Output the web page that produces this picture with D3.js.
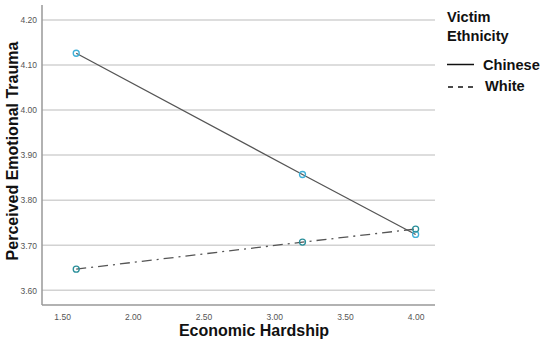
<!DOCTYPE html>
<html><head><meta charset="utf-8">
<script src="https://cdn.jsdelivr.net/npm/d3@7"></script>
<style>body{margin:0;background:#fff}svg{display:block}</style>
</head><body>
<svg id="c" width="550" height="342"></svg>
<script>
const hardship = [1.6, 3.2, 4.0];
const chinese = [4.126, 3.857, 3.724];
const white = [3.647, 3.707, 3.736];
const xTicks = [1.5, 2.0, 2.5, 3.0, 3.5, 4.0];
const yTicks = [3.6, 3.7, 3.8, 3.9, 4.0, 4.1, 4.2];
const seriesNames = ["Chinese", "White"];

const svg = d3.select("#c");
const font = "Liberation Sans, Arial, sans-serif";
const x = d3.scaleLinear().domain([1.358, 4.137]).range([42, 435]);
const y = d3.scaleLinear().domain([3.5675, 4.233]).range([305, 5]);

// gridlines
svg.append("g").selectAll("line").data(yTicks).join("line")
  .attr("x1", 42).attr("x2", 435)
  .attr("y1", d => y(d)).attr("y2", d => y(d))
  .attr("stroke", "#d2d2d2").attr("stroke-width", 1.5);

// axes
const xAxis = d3.axisBottom(x).tickValues(xTicks).tickFormat(d3.format(".2f")).tickSize(0).tickPadding(9);
const gx = svg.append("g").attr("transform", "translate(0,305)").call(xAxis);
gx.select(".domain").attr("stroke", "#999").attr("stroke-width", 1.5).attr("d", "M42,0H435");
gx.selectAll("text").attr("font-family", font).attr("font-size", 8.5).attr("fill", "#555");

const yAxis = d3.axisLeft(y).tickValues(yTicks).tickFormat(d3.format(".2f")).tickSize(0).tickPadding(5);
const gy = svg.append("g").attr("transform", "translate(42,0)").call(yAxis);
gy.select(".domain").attr("stroke", "#999").attr("stroke-width", 1.5).attr("d", "M0,5V305");
gy.selectAll("text").attr("font-family", font).attr("font-size", 8.5).attr("fill", "#555");

// titles
svg.append("text").attr("x", 254).attr("y", 336).attr("text-anchor", "middle")
  .attr("font-family", font).attr("font-weight", "bold").attr("font-size", 16).attr("fill", "#111")
  .text("Economic Hardship");
svg.append("text").attr("transform", "translate(17.5,151) rotate(-90)").attr("text-anchor", "middle")
  .attr("font-family", font).attr("font-weight", "bold").attr("font-size", 16).attr("fill", "#111")
  .text("Perceived Emotional Trauma");

// lines
const line = d3.line().x(d => x(d[0])).y(d => y(d[1]));
const cData = hardship.map((h, i) => [h, chinese[i]]);
const wData = hardship.map((h, i) => [h, white[i]]);
svg.append("path").datum(cData).attr("d", line).attr("fill", "none").attr("stroke", "#555").attr("stroke-width", 1.3);
svg.append("path").datum(wData).attr("d", line).attr("fill", "none").attr("stroke", "#555").attr("stroke-width", 1.3)
  .attr("stroke-dasharray", "10,5,2,5");

svg.append("g").selectAll("circle").data(cData).join("circle")
  .attr("cx", d => x(d[0])).attr("cy", d => y(d[1])).attr("r", 3)
  .attr("fill", "none").attr("stroke", "#3fb0d8").attr("stroke-width", 1.3);
svg.append("g").selectAll("circle").data(wData).join("circle")
  .attr("cx", d => x(d[0])).attr("cy", d => y(d[1])).attr("r", 3)
  .attr("fill", "none").attr("stroke", "#2a8f9a").attr("stroke-width", 1.3);

// legend
const lg = svg.append("g").attr("font-family", font).attr("font-weight", "bold").attr("fill", "#111");
lg.append("text").attr("x", 447).attr("y", 22).attr("font-size", 14.6).text("Victim");
lg.append("text").attr("x", 447).attr("y", 41).attr("font-size", 14.6).text("Ethnicity");
lg.append("line").attr("x1", 447).attr("x2", 474).attr("y1", 64.5).attr("y2", 64.5).attr("stroke", "#111").attr("stroke-width", 1.5);
lg.append("line").attr("x1", 448).attr("x2", 475).attr("y1", 87).attr("y2", 87).attr("stroke", "#111").attr("stroke-width", 1.6).attr("stroke-dasharray", "5,5");
lg.append("text").attr("x", 483).attr("y", 69.5).attr("font-size", 14.6).text(seriesNames[0]);
lg.append("text").attr("x", 485).attr("y", 91).attr("font-size", 14.6).text(seriesNames[1]);
</script>
</body></html>
